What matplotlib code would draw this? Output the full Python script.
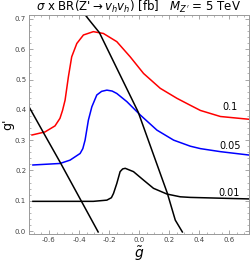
import matplotlib
matplotlib.use("Agg")
import matplotlib.pyplot as plt
from matplotlib.ticker import MultipleLocator

# contour curves sigma x BR = 0.1, 0.05, 0.01 fb
red_x = [-0.713, -0.627, -0.56, -0.527, -0.51, -0.493, -0.471, -0.449, -0.415, -0.371, -0.305,
         -0.238, -0.149, -0.06, 0.029, 0.14, 0.251, 0.34, 0.407, 0.54, 0.727]
red_y = [0.317, 0.327, 0.347, 0.372, 0.398, 0.432, 0.509, 0.575, 0.619, 0.647, 0.658,
         0.652, 0.625, 0.575, 0.520, 0.471, 0.438, 0.415, 0.398, 0.378, 0.369]

blue_x = [-0.707, -0.527, -0.46, -0.393, -0.375, -0.36, -0.338, -0.315, -0.282, -0.25, -0.215,
          -0.18, -0.149, -0.082, 0.007, 0.118, 0.229, 0.34, 0.407, 0.54, 0.727]
blue_y = [0.218, 0.223, 0.234, 0.256, 0.272, 0.300, 0.366, 0.41, 0.449, 0.461, 0.465,
          0.462, 0.454, 0.427, 0.383, 0.333, 0.300, 0.280, 0.272, 0.262, 0.251]

blk_x = [-0.707, -0.305, -0.215, -0.185, -0.171, -0.149, -0.127, -0.11, -0.093, -0.038, 0.029,
         0.095, 0.185, 0.273, 0.34, 0.727]
blk_y = [0.098, 0.098, 0.102, 0.110, 0.124, 0.157, 0.196, 0.205, 0.207, 0.196, 0.168,
         0.141, 0.122, 0.113, 0.111, 0.106]

# constraint lines
left_x = [-0.733, -0.627, -0.527, -0.273]
left_y = [0.41, 0.316, 0.228, -0.003]
right_x = [-0.37, -0.327, -0.265, -0.007, 0.187, 0.24, 0.287]
right_y = [0.72, 0.693, 0.655, 0.393, 0.125, 0.036, -0.003]

labels = ["0.1", "0.05", "0.01"]
label_pos = [(0.607, 0.409), (0.607, 0.28), (0.6, 0.125)]

fig = plt.figure(figsize=(2.5, 2.63), dpi=100)
ax = fig.add_axes([0.116, 0.110, 0.878, 0.833])

ax.plot(red_x, red_y, color="red", lw=1.1)
ax.plot(blue_x, blue_y, color="blue", lw=1.1)
ax.plot(blk_x, blk_y, color="black", lw=1.1)
ax.plot(left_x, left_y, color="black", lw=1.1)
ax.plot(right_x, right_y, color="black", lw=1.1)

for t, (x, y) in zip(labels, label_pos):
    ax.text(x, y, t, fontsize=7, ha="center", va="center")

ax.set_xlim(-0.733, 0.727)
ax.set_ylim(-0.01, 0.713)
ax.xaxis.set_major_locator(MultipleLocator(0.2))
ax.xaxis.set_minor_locator(MultipleLocator(0.05))
ax.yaxis.set_major_locator(MultipleLocator(0.1))
ax.yaxis.set_minor_locator(MultipleLocator(0.02))
ax.xaxis.set_major_formatter(lambda v, p: f"{v:.1f}".replace("-0.0", "0.0"))
ax.yaxis.set_major_formatter(lambda v, p: f"{v:.1f}")

ax.tick_params(which="both", direction="in", top=True, right=True,
               color="#999999", labelsize=5, labelcolor="#444444", pad=2)
ax.tick_params(which="major", length=3, width=0.6)
ax.tick_params(which="minor", length=1.5, width=0.5)
for s in ax.spines.values():
    s.set_color("#999999")
    s.set_linewidth(0.7)

ax.set_title(r"$\sigma$ x BR(Z'$\rightarrow v_h v_h$) [fb]   $M_{Z'}$ = 5 TeV",
             fontsize=8.5, pad=2)
ax.set_xlabel(r"$\tilde{g}$", fontsize=10, labelpad=1)
ax.set_ylabel("g'", fontsize=9)
ax.yaxis.set_label_coords(-0.065, 0.5)

fig.savefig("out.png", dpi=100)
